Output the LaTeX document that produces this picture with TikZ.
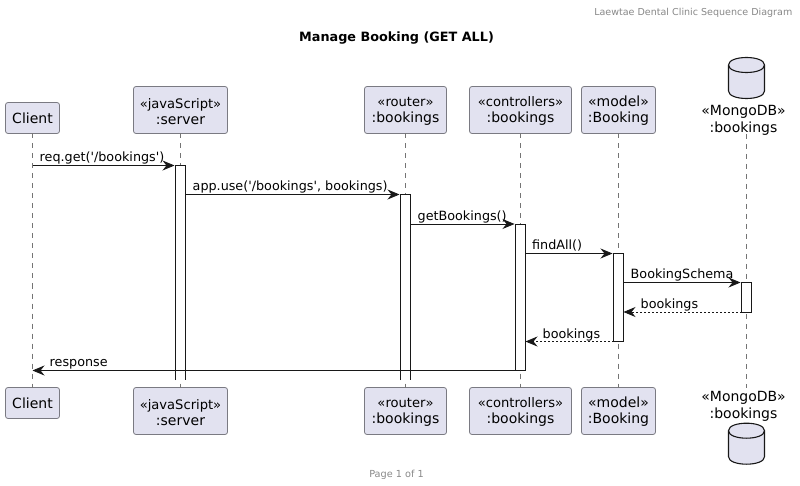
\documentclass[tikz,border=0pt]{standalone}
\usepackage{fontspec}
\newfontfamily\djsans{DejaVu Sans}
\usetikzlibrary{arrows.meta,calc}
\definecolor{boxfill}{HTML}{E2E2F0}
\definecolor{boxline}{HTML}{7A7A82}
\definecolor{ink}{HTML}{181818}
\definecolor{greytext}{HTML}{888888}
\newcommand{\lnup}{\rule{0pt}{12.6pt}}
\newcommand{\stsmall}[1]{{\lnup\fontsize{13.1}{16}\selectfont #1}}
\tikzset{
  part/.style={draw=boxline,fill=boxfill,rounded corners=2.5pt,line width=0.8pt,inner sep=0pt,outer sep=0pt,align=center,text=black,font=\djsans\fontsize{14}{16}\selectfont},
  dbtext/.style={inner sep=0pt,outer sep=0pt,align=center,text=black,font=\djsans\fontsize{14}{16.5}\selectfont},
  life/.style={draw=ink!60,line width=0.6pt,dash pattern=on 5pt off 5pt},
  actbox/.style={draw=ink,fill=white,line width=0.8pt,inner sep=0pt,outer sep=0pt,minimum width=10pt},
  actopen/.style={fill=white,inner sep=0pt,outer sep=0pt,minimum width=10pt},
  msg/.style={draw=ink,line width=0.8pt,-{Stealth[length=12pt,width=10pt,inset=4pt,fill=ink]}},
  ret/.style={msg,dash pattern=on 2pt off 2pt},
  msgtext/.style={inner sep=0pt,anchor=base west,text=black,font=\djsans\fontsize{12.75}{15}\selectfont},
  dbshape/.style={draw=ink,fill=boxfill,line width=1.1pt},
}
\newcommand{\dbcyl}[2]{%
  \draw[dbshape] (#1-18,#2+10) .. controls (#1-18,#2) and (#1+18,#2) .. (#1+18,#2+10)
    -- (#1+18,#2+36) .. controls (#1+18,#2+46) and (#1-18,#2+46) .. (#1-18,#2+36) -- cycle;
  \draw[dbshape,fill=none] (#1-18,#2+10) .. controls (#1-18,#2+20) and (#1+18,#2+20) .. (#1+18,#2+10);
}
\begin{document}
\begin{tikzpicture}[x=1pt,y=-1pt]
\useasboundingbox (0,0) rectangle (800,486);
\node[anchor=east,inner sep=0pt,text=greytext,font=\djsans\fontsize{9.55}{12}\selectfont] (head) at (792.5,12.5) {Laewtae Dental Clinic Sequence Diagram};
\node[inner sep=0pt,text=black,font=\djsans\fontsize{12.8}{16}\selectfont\bfseries] (title) at (396.5,38) {Manage Booking (GET ALL)};
\node[inner sep=0pt,text=greytext,font=\djsans\fontsize{9.7}{12}\selectfont] (page) at (396.5,474.5) {Page 1 of 1};

% top participants
\node[part,minimum width=54pt,minimum height=31pt] (clientT) at (32.5,118) {Client};
\node[part,minimum width=94pt,minimum height=47pt] (serverT) at (180.5,110) {\stsmall{«javaScript»}\\:server};
\node[part,minimum width=82pt,minimum height=47pt] (routerT) at (405.5,110) {\stsmall{«router»}\\:bookings};
\node[part,minimum width=102pt,minimum height=47pt] (ctrlT) at (520.5,110) {\stsmall{«controllers»}\\:bookings};
\node[part,minimum width=74pt,minimum height=47pt] (modelT) at (618.5,110) {\lnup«model»\\:Booking};
\node[dbtext] (dbT) at (743.5,120.5) {«MongoDB»\\:bookings};
% bottom participants
\node[part,minimum width=54pt,minimum height=31pt] (clientB) at (32.5,403) {Client};
\node[part,minimum width=94pt,minimum height=47pt] (serverB) at (180.5,411) {\stsmall{«javaScript»}\\:server};
\node[part,minimum width=82pt,minimum height=47pt] (routerB) at (405.5,411) {\stsmall{«router»}\\:bookings};
\node[part,minimum width=102pt,minimum height=47pt] (ctrlB) at (520.5,411) {\stsmall{«controllers»}\\:bookings};
\node[part,minimum width=74pt,minimum height=47pt] (modelB) at (618.5,411) {\lnup«model»\\:Booking};
\node[dbtext] (dbB) at (743.5,406.5) {«MongoDB»\\:bookings};
\dbcyl{746.5}{55}
\dbcyl{746.5}{420.7}

% lifelines
\coordinate (dblT) at (746.5,134);
\coordinate (dblB) at (746.5,388);
\draw[life] (clientT.south) -- (clientB.north);
\draw[life] (serverT.south) -- (serverB.north);
\draw[life] (routerT.south) -- (routerB.north);
\draw[life] (ctrlT.south) -- (ctrlB.north);
\draw[life] (modelT.south) -- (modelB.north);
\draw[life] (dblT) -- (dblB);

% activations
\node[actopen,minimum height=214.5pt] (aserver) at (180.5,272.75) {};
\draw[ink,line width=0.8pt] (aserver.south west) -- (aserver.north west) -- (aserver.north east) -- (aserver.south east);
\node[actopen,minimum height=185.5pt] (arouter) at (405.5,287.25) {};
\draw[ink,line width=0.8pt] (arouter.south west) -- (arouter.north west) -- (arouter.north east) -- (arouter.south east);
\node[actbox,minimum height=146.5pt] (actrl) at (520.5,297.25) {};
\node[actbox,minimum height=88pt] (amodel) at (618.5,297.5) {};
\node[actbox,minimum height=29.5pt] (adb) at (746.5,297.25) {};

% messages
\draw[msg] (clientT.south |- aserver.north) -- ([xshift=-1pt]aserver.north west);
\draw[msg] (aserver.east |- arouter.north) -- ([xshift=-1pt]arouter.north west);
\draw[msg] (arouter.east |- actrl.north) -- ([xshift=-1pt]actrl.north west);
\draw[msg] (actrl.east |- amodel.north) -- ([xshift=-1pt]amodel.north west);
\draw[msg] (amodel.east |- adb.north) -- ([xshift=-1pt]adb.north west);
\draw[ret] (adb.south west) -- (amodel.east |- adb.south);
\draw[ret] (amodel.south west) -- (actrl.east |- amodel.south);
\draw[msg] (actrl.south east) -- (clientT.south |- actrl.south);

\node[msgtext] (m1) at (39.5,162) {req.get('/bookings')};
\node[msgtext] (m2) at (192.5,191) {app.use('/bookings', bookings)};
\node[msgtext] (m3) at (417.5,220.5) {getBookings()};
\node[msgtext] (m4) at (532,250) {findAll()};
\node[msgtext] (m5) at (630.5,279) {BookingSchema};
\node[msgtext] (m6) at (640.5,308.5) {bookings};
\node[msgtext] (m7) at (542.5,338) {bookings};
\node[msgtext] (m8) at (49.5,366.5) {response};
\end{tikzpicture}
\end{document}
